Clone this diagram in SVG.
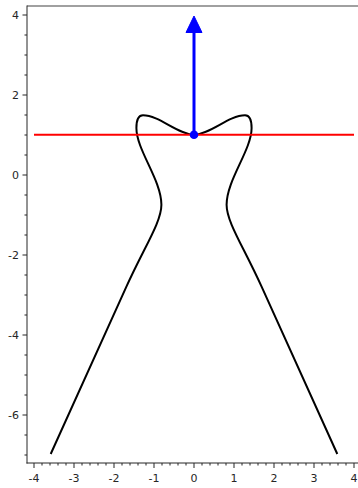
<svg xmlns="http://www.w3.org/2000/svg" xmlns:xlink="http://www.w3.org/1999/xlink" width="358" height="488" viewBox="0 0 358 488">
<style>
.lbl{font-family:"DejaVu Sans",sans-serif;font-size:11px;fill:#262626}
.yl{text-anchor:end}
.xl{text-anchor:middle}
.tick{stroke:#262626;stroke-width:1;fill:none}
.curve{stroke:#000;stroke-width:2;fill:none;stroke-linejoin:round;stroke-linecap:butt}
</style>
<defs>
<path id="half" d="M194 134.7 C177.7 134.7 159.7 115.3 143 115.3 C138.2 115.3 136.4 120 136.4 128 C136.4 150 161.4 180 161.4 204.7 C161.4 222 144.5 246.7 126.4 286.7 L50.7 454"/>
</defs>
<rect width="358" height="488" fill="#fff"/>
<g id="axes">
<line x1="27" y1="6" x2="358" y2="6" stroke="#808080" stroke-width="1.5"/>
<line x1="27" y1="5.5" x2="27" y2="463.5" stroke="#262626" stroke-width="1"/>
<line x1="26.5" y1="463" x2="358" y2="463" stroke="#262626" stroke-width="1"/>
<path class="tick" d="M22.5 15h4.5M22.5 95h4.5M22.5 175h4.5M22.5 255h4.5M22.5 335h4.5M22.5 415h4.5"/>
<path class="tick" d="M24.5 35h2.5M24.5 55h2.5M24.5 75h2.5M24.5 115h2.5M24.5 135h2.5M24.5 155h2.5M24.5 195h2.5M24.5 215h2.5M24.5 235h2.5M24.5 275h2.5M24.5 295h2.5M24.5 315h2.5M24.5 355h2.5M24.5 375h2.5M24.5 395h2.5M24.5 435h2.5M24.5 455h2.5"/>
<path class="tick" d="M34 463v5M74 463v5M114 463v5M154 463v5M194 463v5M234 463v5M274 463v5M314 463v5M354 463v5"/>
<path class="tick" d="M42 463v2.5M50 463v2.5M58 463v2.5M66 463v2.5M82 463v2.5M90 463v2.5M98 463v2.5M106 463v2.5M122 463v2.5M130 463v2.5M138 463v2.5M146 463v2.5M162 463v2.5M170 463v2.5M178 463v2.5M186 463v2.5M202 463v2.5M210 463v2.5M218 463v2.5M226 463v2.5M242 463v2.5M250 463v2.5M258 463v2.5M266 463v2.5M282 463v2.5M290 463v2.5M298 463v2.5M306 463v2.5M322 463v2.5M330 463v2.5M338 463v2.5M346 463v2.5"/>
<text class="lbl yl" x="19" y="19">4</text>
<text class="lbl yl" x="19" y="99">2</text>
<text class="lbl yl" x="19" y="179">0</text>
<text class="lbl yl" x="19" y="259">-2</text>
<text class="lbl yl" x="19" y="339">-4</text>
<text class="lbl yl" x="19" y="419">-6</text>
<text class="lbl xl" x="34" y="482">-4</text>
<text class="lbl xl" x="74" y="482">-3</text>
<text class="lbl xl" x="114" y="482">-2</text>
<text class="lbl xl" x="154" y="482">-1</text>
<text class="lbl xl" x="194" y="482">0</text>
<text class="lbl xl" x="234" y="482">1</text>
<text class="lbl xl" x="274" y="482">2</text>
<text class="lbl xl" x="314" y="482">3</text>
<text class="lbl xl" x="354" y="482">4</text>
</g>
<g id="curve">
<use xlink:href="#half" href="#half" class="curve"/>
<use xlink:href="#half" href="#half" class="curve" transform="translate(388,0) scale(-1,1)"/>
</g>
<g id="tangent">
<line x1="34" y1="134.7" x2="354" y2="134.7" stroke="#f00" stroke-width="2"/>
</g>
<g id="normal">
<line x1="194" y1="134.7" x2="194" y2="31" stroke="#00f" stroke-width="3"/>
<polygon points="194,16 186,32.5 202,32.5" fill="#00f" stroke="#00f" stroke-width="1" stroke-linejoin="round"/>
<circle cx="194" cy="134.7" r="4.3" fill="#00f"/>
</g>
</svg>
